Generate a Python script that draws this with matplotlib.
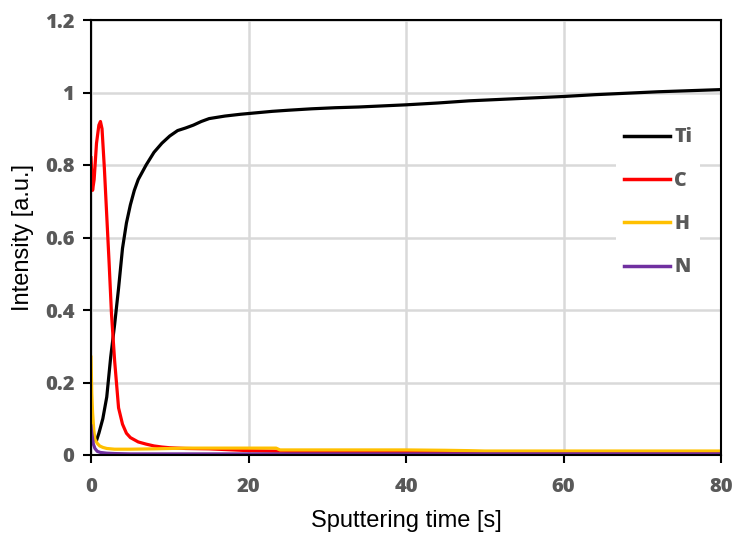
import matplotlib.pyplot as plt

# values
ti_t = [0.7, 1.0, 1.5, 2.0, 2.5, 3.0, 3.5, 4.0, 4.5, 5.0, 5.5, 6.0, 7.0, 8.0, 9.0, 10, 11, 12, 13, 14, 15,
        17, 19, 21, 23, 25, 28, 31, 34, 37, 40, 44, 48, 52, 56, 60, 64, 68, 72, 76, 80]
ti_y = [0.04, 0.06, 0.10, 0.16, 0.27, 0.36, 0.46, 0.57, 0.64, 0.69, 0.73, 0.76, 0.80, 0.835, 0.86, 0.88, 0.895,
        0.902, 0.91, 0.92, 0.928, 0.935, 0.94, 0.944, 0.948, 0.951, 0.955, 0.958, 0.96, 0.963, 0.966, 0.971,
        0.977, 0.981, 0.985, 0.989, 0.994, 0.998, 1.002, 1.005, 1.008]

c_t = [0, 0.2, 0.4, 0.7, 1.0, 1.2, 1.4, 1.7, 2.0, 2.3, 2.6, 3.0, 3.5, 4.0, 4.5, 5, 6, 7, 8, 9, 10, 12, 15,
       20, 25, 30, 40, 45, 50, 60, 70, 80]
c_y = [0.82, 0.73, 0.76, 0.86, 0.91, 0.92, 0.90, 0.79, 0.66, 0.53, 0.39, 0.26, 0.13, 0.085, 0.06, 0.048,
       0.036, 0.03, 0.025, 0.022, 0.02, 0.018, 0.017, 0.012, 0.010, 0.009, 0.008, 0.007, 0.006, 0.006, 0.006, 0.006]

h_t = [0, 0.1, 0.2, 0.35, 0.5, 0.8, 1.1, 1.5, 2, 3, 5, 8, 12, 16, 20, 23.5, 24, 30, 40, 45, 48, 50, 60, 70, 80]
h_y = [0.27, 0.17, 0.117, 0.07, 0.043, 0.032, 0.025, 0.021, 0.018, 0.016, 0.016, 0.017, 0.019, 0.019, 0.019,
       0.019, 0.014, 0.014, 0.014, 0.013, 0.012, 0.011, 0.011, 0.011, 0.011]

n_t = [0, 0.1, 0.3, 0.5, 0.8, 1.2, 2, 3, 5, 10, 80]
n_y = [0.08, 0.06, 0.03, 0.018, 0.01, 0.007, 0.005, 0.004, 0.003, 0.003, 0.003]

labels = ['Ti', 'C', 'H', 'N']
colors = ['black', '#FF0000', '#FFC000', '#7030A0']

fig = plt.figure(figsize=(7.32, 5.35), dpi=100)
ax = fig.add_axes([91 / 732, 1 - 455 / 535, 630 / 732, 435 / 535])

for t, y, lab, col in zip([ti_t, c_t, h_t, n_t], [ti_y, c_y, h_y, n_y], labels, colors):
    ax.plot(t, y, color=col, lw=2.3, label=lab)

ax.set_xlim(0, 80)
ax.set_ylim(0, 1.2)
ax.set_xticks([0, 20, 40, 60, 80])
ax.set_yticks([0, 0.2, 0.4, 0.6, 0.8, 1, 1.2])
ax.set_yticklabels(['0', '0.2', '0.4', '0.6', '0.8', '1', '1.2'])
ax.grid(True, color='#d9d9d9', lw=1.8)
ax.set_axisbelow(True)
for s in ax.spines.values():
    s.set_linewidth(1.5)
    s.set_color('black')
ax.tick_params(direction='out', length=6, width=1.5, color='black', labelcolor='#595959')
ax.tick_params(axis='x', pad=10)
ax.tick_params(axis='y', pad=6)
for lbl in ax.get_xticklabels() + ax.get_yticklabels():
    lbl.set_fontfamily('Open Sans')
    lbl.set_fontweight('heavy')
    lbl.set_fontsize(14.5)

ax.set_xlabel('Sputtering time [s]', fontsize=17, family='Liberation Sans', labelpad=9)
ax.set_ylabel('Intensity [a.u.]', fontsize=17, family='Liberation Sans', labelpad=8)

leg = ax.legend(loc='upper left', bbox_to_anchor=(606 / 732, 1 - 110 / 535), bbox_transform=fig.transFigure,
                frameon=True, facecolor='white', edgecolor='none', framealpha=1, fancybox=False,
                handlelength=2.4, handletextpad=0.2, labelspacing=1.2, borderpad=0.4,
                prop={'family': 'Open Sans', 'weight': 'heavy', 'size': 14})
for txt in leg.get_texts():
    txt.set_color('#595959')
for line in leg.get_lines():
    line.set_linewidth(2.5)

fig.savefig('out.png', dpi=100)
